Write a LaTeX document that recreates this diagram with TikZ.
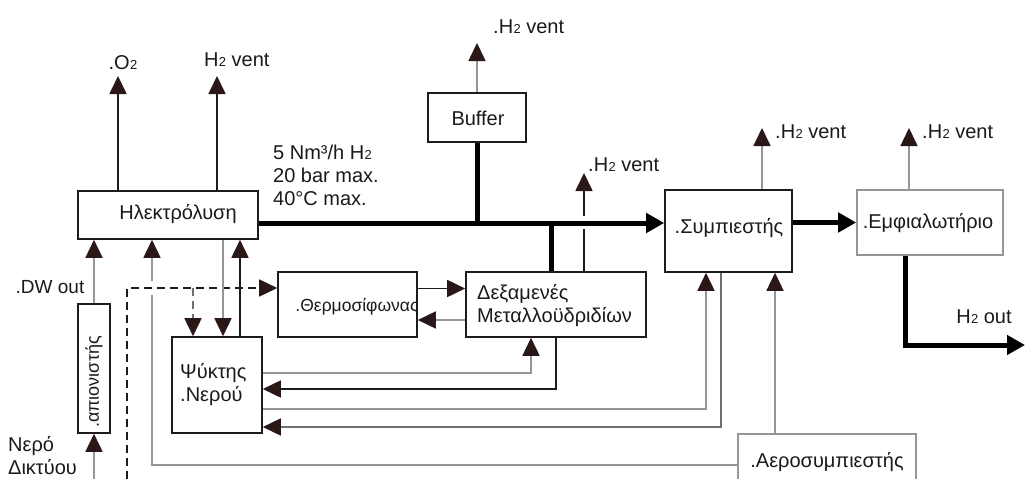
\documentclass[tikz,border=0pt]{standalone}
\usepackage{fontspec}
\usepackage{graphicx}
\setmainfont{Liberation Sans}
\usetikzlibrary{arrows.meta,calc}
\definecolor{dk}{HTML}{1C1C1C}
\definecolor{gr}{HTML}{969696}
\definecolor{md}{HTML}{707070}
\definecolor{tipc}{HTML}{2A1818}
\definecolor{txt}{HTML}{1A1A1A}
\newcommand\Htw{H\kern0.3pt{\fontsize{13}{13}\selectfont 2}}
\begin{document}
\begin{tikzpicture}[x=1pt,y=-1pt,
 box/.style={draw=dk,line width=1.6pt,inner sep=0pt},
 gbox/.style={draw=gr,line width=1.6pt,inner sep=0pt},
 txtn/.style={text=txt,font=\fontsize{20}{23}\selectfont,inner sep=0pt},
 thin/.style={draw=dk,line width=1.7pt},
 grl/.style={draw=gr,line width=1.6pt},
 mdl/.style={draw=md,line width=1.6pt},
 thk/.style={draw=black,line width=5pt},
 tip/.style={-{Triangle[length=18pt,width=17pt,color=tipc]}},
 bigtip/.style={-{Triangle[length=18pt,width=19pt,color=black]}},
 dsh/.style={draw=dk,line width=1.7pt,dash pattern=on 8pt off 5pt}
]
\useasboundingbox[fill=white] (0,0) rectangle (1025,479);

% boxes
\node[box,minimum width=180pt,minimum height=48pt] (el) at (168,215) {};
\node[txtn] (elT) at (178,214) {Ηλεκτρόλυση};
\node[box,minimum width=98pt,minimum height=49pt] (buf) at (477,117.5) {};
\node[txtn] (bufT) at (478,118) {Buffer};
\node[box,minimum width=127pt,minimum height=82pt] (sym) at (728.5,231) {};
\node[txtn] (symT) at (729,228) {.Συμπιεστής};
\node[gbox,minimum width=146pt,minimum height=65pt] (emf) at (930,222.5) {};
\node[txtn] (emfT) at (928,223) {.Εμφιαλωτήριο};
\node[box,minimum width=139pt,minimum height=65pt] (th) at (347.5,304.5) {};
\node[txtn,font=\fontsize{17.5}{21}\selectfont] (thT) at (357,307) {.Θερμοσίφωνας};
\node[box,minimum width=180pt,minimum height=65pt] (dex) at (556,304.5) {};
\node[txtn,align=left,anchor=west] (dexT) at (477,306) {Δεξαμενές\\Μεταλλοϋδριδίων};
\node[box,minimum width=90pt,minimum height=96pt] (psy) at (217,385) {};
\node[txtn,align=left,anchor=west] (psyT) at (180,385) {Ψύκτης\\.Νερού};
\node[box,minimum width=32pt,minimum height=129pt] (api) at (94,368.5) {};
\node[txtn,font=\fontsize{18}{20}\selectfont,rotate=90] (apiT) at (94,382) {.απιονιστής};
\node[gbox,minimum width=178pt,minimum height=61pt] (aer) at (827,464.5) {};
\node[txtn] (aerT) at (827,462) {.Αεροσυμπιεστής};

% free labels
\node[txtn] (o2T) at (123,63) {.O\kern0.3pt{\fontsize{13}{13}\selectfont 2}};
\node[txtn,anchor=west] (hv1T) at (204,60) {\Htw{} vent};
\node[txtn,anchor=west] (bvT) at (493,27) {.\Htw{} vent};
\node[txtn,anchor=west] (dvT) at (588,165) {.\Htw{} vent};
\node[txtn,anchor=west] (svT) at (775,132) {.\Htw{} vent};
\node[txtn,anchor=west] (evT) at (922,132) {.\Htw{} vent};
\node[txtn] (hoT) at (984,317) {\Htw{} out};
\node[txtn,align=left,anchor=west] (specT) at (273,175) {5 Nm³/h \Htw\\20 bar max.\\40°C max.};
\node[txtn,font=\fontsize{19}{22}\selectfont] (dwT) at (50,287) {.DW out};
\node[txtn,align=left,anchor=west] (nerT) at (8,456) {Νερό\\Δικτύου};

% coordinates
\coordinate (m1) at ([yshift=-8pt]el.east);
\coordinate (o2) at (118,76);
\coordinate (hv1) at (217,76);
\coordinate (bv) at (477,43);
\coordinate (d1) at (551,0);
\coordinate (dv) at (584,173);
\coordinate (sv) at (762,128);
\coordinate (ev) at (909,128);
\coordinate (ho1) at (905,345);
\coordinate (ho2) at (1025,345);
\coordinate (t1) at ([yshift=16pt]th.east);
\coordinate (t2) at ([yshift=-15.5pt]dex.west);
\coordinate (ds0) at (127,479);
\coordinate (ds1) at (127,288);
\coordinate (ds2) at (193,288);
\coordinate (g1) at (223,0);
\coordinate (g2) at (240,0);
\coordinate (w0) at (94,479);
\coordinate (a1) at (152,465);
\coordinate (a1u) at (152,295);
\coordinate (a1v) at (152,281);
\coordinate (a2) at (775,0);
\coordinate (p1) at ([yshift=12pt]psy.east);
\coordinate (p1b) at (531,0);
\coordinate (p2) at ([yshift=-4pt]psy.east);
\coordinate (p3) at ([yshift=-24pt]psy.east);
\coordinate (p3b) at (706,0);
\coordinate (p4) at ([yshift=-42pt]psy.east);
\coordinate (p4b) at (721,0);

% connectors
\draw[thin,tip] (el.north -| o2) -- (o2);
\draw[thin,tip] (el.north -| hv1) -- (hv1);
\draw[thk,bigtip] (m1) -- (m1 -| sym.west);
\draw[thk] (buf.south) -- (buf.south |- m1);
\draw[grl,tip] (buf.north) -- (bv);
\draw[thk] (dex.north -| d1) -- (m1 -| d1);
\draw[thin] (dex.north -| dv) -- (584,229);
\draw[thin,tip] (584,216) -- (dv);
\draw[thk,bigtip] (sym.east |- emf.west) -- (emf.west);
\draw[grl,tip] (sym.north -| sv) -- (sv);
\draw[grl,tip] (emf.north -| ev) -- (ev);
\draw[thk,bigtip] (emf.south -| ho1) -- (ho1) -- (ho2);
\draw[thin,tip] (t1) -- (t1 -| dex.west);
\draw[grl,tip] (t2) -- (t2 -| th.east);
\draw[dsh,tip] (ds0) -- (ds1) -- (ds1 -| th.west);
\draw[dsh,draw=md,tip] (ds2) -- (ds2 |- psy.north);
\draw[grl,tip] (el.south -| g1) -- (psy.north -| g1);
\draw[thin,tip] (psy.north -| g2) -- (el.south -| g2);
\draw[grl,tip] (api.north) -- (api.north |- el.south);
\draw[grl,tip] (w0) -- (api.south);
\draw[grl] (aer.west |- a1) -- (a1) -- (a1u);
\draw[grl,tip] (a1v) -- (el.south -| a1);
\draw[grl,tip] (aer.north -| a2) -- (sym.south -| a2);
\draw[grl,tip] (p1) -- (p1 -| p1b) -- (dex.south -| p1b);
\draw[thin,tip] (dex.south) -- (dex.south |- p2) -- (p2);
\draw[grl,tip] (p3) -- (p3 -| p3b) -- (sym.south -| p3b);
\draw[mdl,tip] (sym.south -| p4b) -- (p4b |- p4) -- (p4);
\end{tikzpicture}
\end{document}
